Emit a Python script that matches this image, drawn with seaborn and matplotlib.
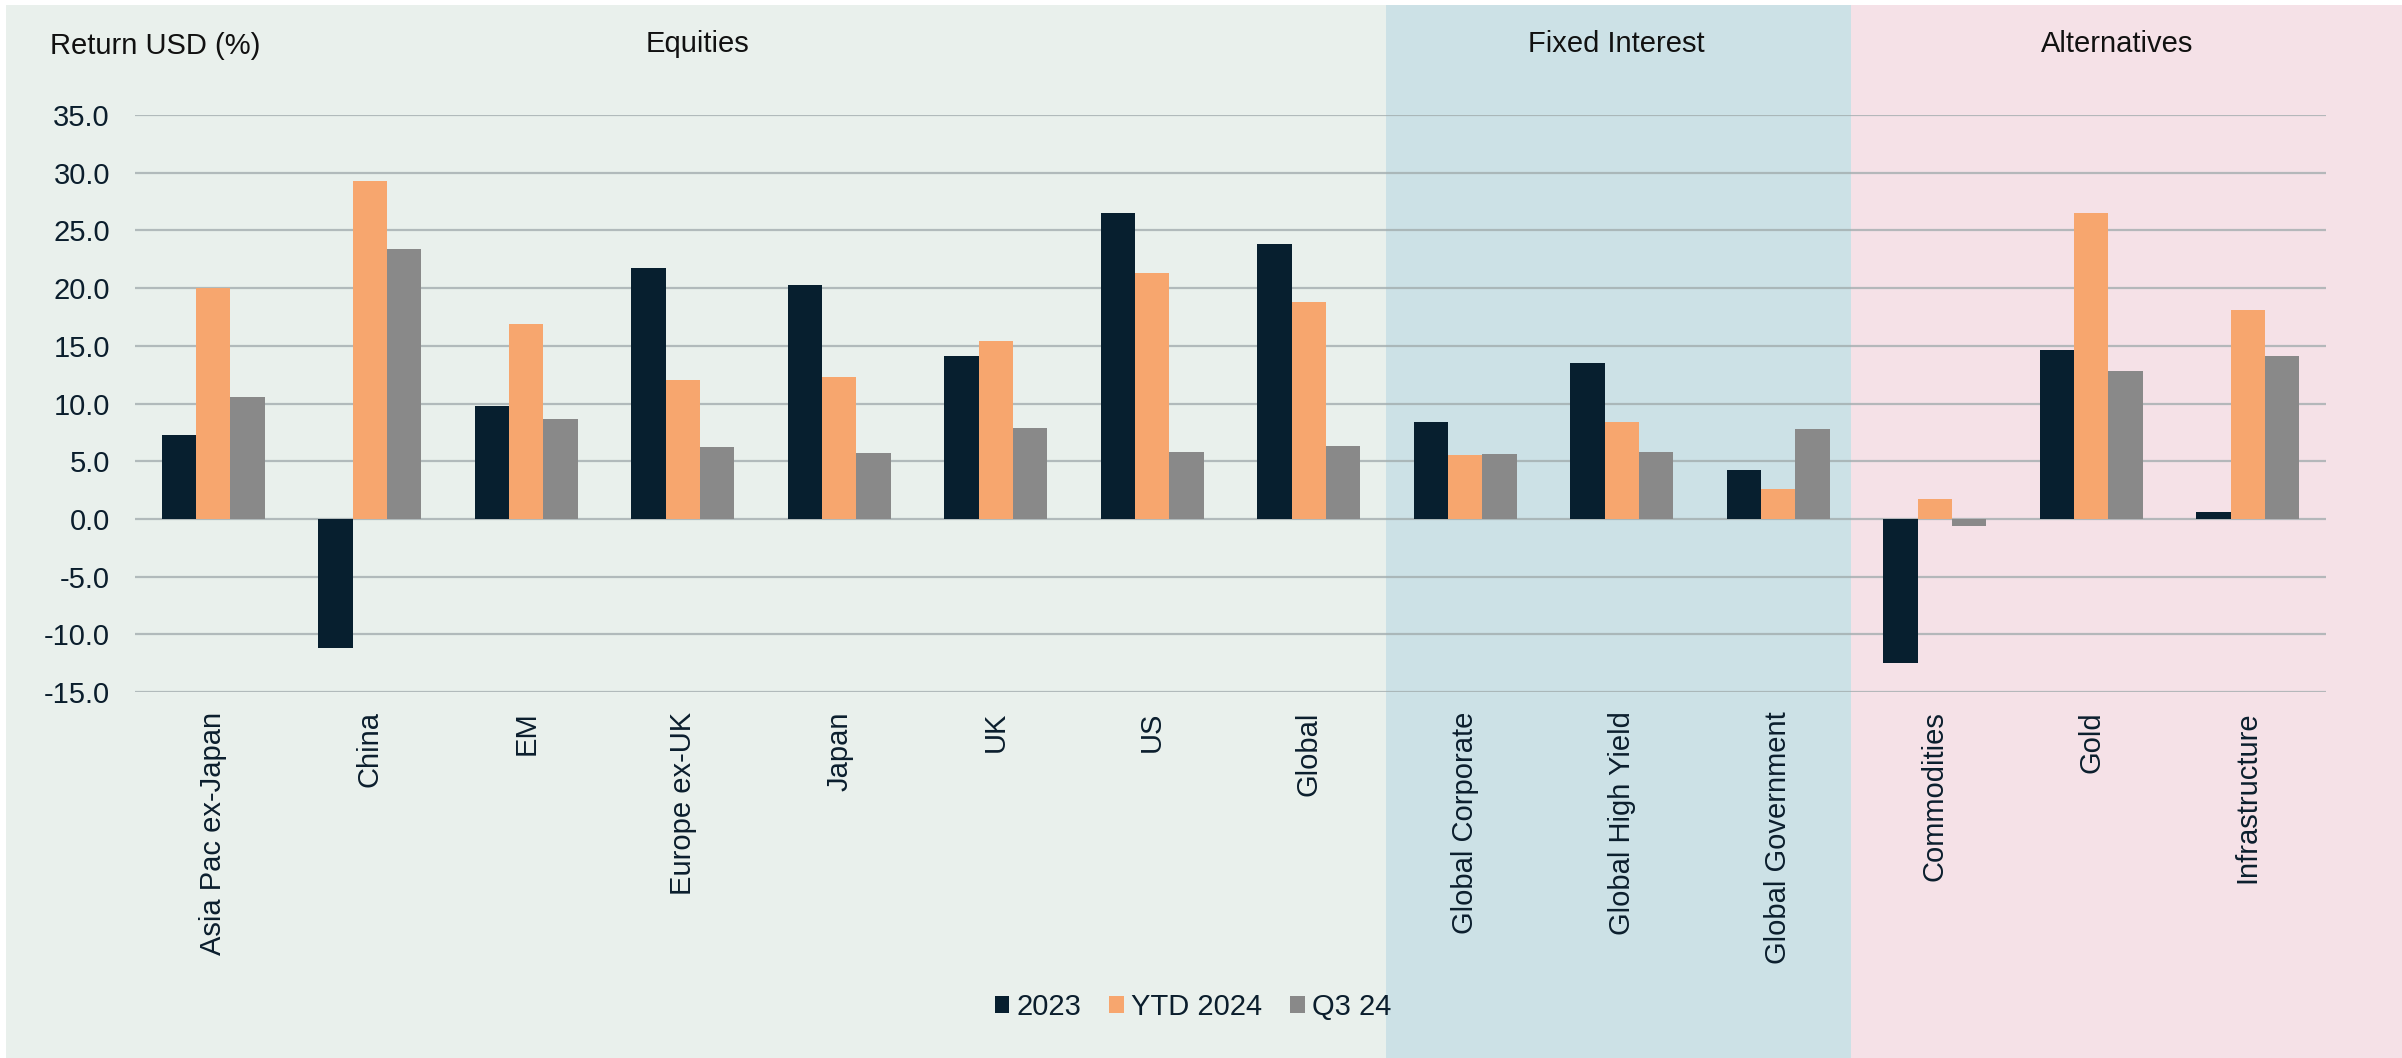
import matplotlib
matplotlib.use("Agg")
import matplotlib.pyplot as plt
from matplotlib.patches import Rectangle
from matplotlib.ticker import FuncFormatter
import numpy as np
import pandas as pd
import seaborn as sns

# ---- data -------------------------------------------------------------
categories = [
    "Asia Pac ex-Japan", "China", "EM", "Europe ex-UK", "Japan", "UK", "US",
    "Global", "Global Corporate", "Global High Yield", "Global Government",
    "Commodities", "Gold", "Infrastructure",
]
series_names = ["2023", "YTD 2024", "Q3 24"]
ret_2023 = [7.3, -11.2, 9.8, 21.7, 20.3, 14.1, 26.5, 23.8, 8.4, 13.5, 4.2, -12.5, 14.6, 0.6]
ret_ytd_2024 = [20.0, 29.3, 16.9, 12.0, 12.3, 15.4, 21.3, 18.8, 5.5, 8.4, 2.6, 1.7, 26.5, 18.1]
ret_q3_24 = [10.6, 23.4, 8.7, 6.2, 5.7, 7.9, 5.8, 6.3, 5.6, 5.8, 7.8, -0.6, 12.8, 14.1]

groups = ["Equities", "Fixed Interest", "Alternatives"]
y_ticks = [-15.0, -10.0, -5.0, 0.0, 5.0, 10.0, 15.0, 20.0, 25.0, 30.0, 35.0]

# ---- styling ----------------------------------------------------------
sns.set_theme(style="white")
plt.rcParams["font.family"] = ["Liberation Sans", "DejaVu Sans"]

bar_colors = ["#071F2F", "#F7A66E", "#898989"]
group_colors = ["#E9F0EC", "#CCE1E6", "#F5E1E7"]
text_color = "#0B1E2D"
FS = 21

df = pd.DataFrame({
    "category": np.repeat(categories, 3),
    "series": series_names * len(categories),
    "value": np.ravel(np.column_stack([ret_2023, ret_ytd_2024, ret_q3_24])),
})

W, H = 2402, 1058
fig = plt.figure(figsize=(W / 100, H / 100), dpi=100)
fig.patch.set_facecolor("white")

ax_left, ax_right = 135 / W, 2326 / W
ax_bottom, ax_top = 1 - 692 / H, 1 - 115 / H
ax = fig.add_axes([ax_left, ax_bottom, ax_right - ax_left, ax_top - ax_bottom])
ax.patch.set_alpha(0)

sns.barplot(
    data=df, x="category", y="value", hue="series",
    order=categories, hue_order=series_names, palette=bar_colors,
    width=0.66, gap=0, saturation=1, errorbar=None, ax=ax,
    edgecolor="none", linewidth=0,
)

ax.set_xlim(-0.5, len(categories) - 0.5)
ax.set_ylim(-15, 35)
ax.set_yticks(y_ticks)
ax.yaxis.set_major_formatter(FuncFormatter(lambda v, p: f"{v:.1f}"))
ax.set_xlabel("")
ax.set_ylabel("")
ax.grid(axis="y", color="#9FA9AB", linewidth=1.6, alpha=0.75)
ax.grid(axis="x", visible=False)
ax.set_axisbelow(True)
for s in ax.spines.values():
    s.set_visible(False)

ax.tick_params(axis="y", length=0, pad=18, labelsize=FS, labelcolor=text_color)
ax.tick_params(axis="x", length=0, pad=14, labelsize=FS, labelcolor=text_color)
plt.setp(ax.get_xticklabels(), rotation=90, va="top", ha="center")

# ---- section panels behind the plot -----------------------------------
panel_edges_px = [6, 1386, 1851, W]
panel_top = 1 - 5 / H
label_x = [698 / W, 1616 / W, 2117 / W]
for i, name in enumerate(groups):
    x0, x1 = panel_edges_px[i] / W, panel_edges_px[i + 1] / W
    fig.patches.append(Rectangle((x0, 0), x1 - x0, panel_top,
                                 transform=fig.transFigure,
                                 facecolor=group_colors[i], edgecolor="none",
                                 zorder=-5))
    fig.text(label_x[i], 1 - 44 / H, name, ha="center", va="center",
             fontsize=FS, color="#111111")

fig.text(50 / W, 1 - 46 / H, "Return USD (%)", ha="left", va="center",
         fontsize=FS, color="#111111")

# ---- legend -----------------------------------------------------------
handles, labels = ax.get_legend_handles_labels()
if ax.get_legend() is not None:
    ax.get_legend().remove()
fig.legend(handles, labels, loc="center", bbox_to_anchor=(1193 / W, 1 - 1007 / H),
           ncol=3, frameon=False, fontsize=FS, labelcolor=text_color,
           handlelength=0.5, handleheight=0.5, handletextpad=0.25,
           columnspacing=0.95, borderpad=0)

fig.savefig("out.png", dpi=100, facecolor=fig.get_facecolor())
